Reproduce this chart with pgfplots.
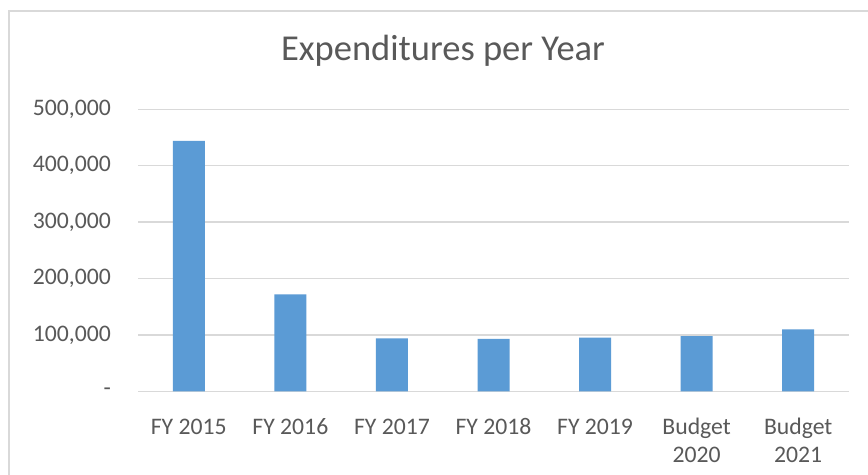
\documentclass[border=0pt]{standalone}
\usepackage{pgfplots}
\pgfplotsset{compat=1.18}
\usepackage{fontspec}
\setmainfont{Carlito}
\definecolor{barblue}{HTML}{5B9BD5}
\definecolor{gridgray}{HTML}{D9D9D9}
\definecolor{txtgray}{HTML}{595959}
\begin{document}
\begin{tikzpicture}
\useasboundingbox (0,0) rectangle (868bp,475bp);
\fill[white] (0,0) rectangle (868bp,475bp);
\draw[gridgray, line width=1.5bp] (9bp,0) -- (9bp,464bp) -- (868bp,464bp);
\begin{axis}[
  at={(138bp,83.7bp)}, anchor=south west,
  scale only axis, width=711bp, height=282bp,
  xmin=-0.5, xmax=6.5, ymin=0, ymax=500000,
  scaled y ticks=false,
  ybar, bar width=32bp,
  axis line style={draw=none},
  tick style={draw=none},
  ymajorgrids, grid style={gridgray, line width=1.3bp},
  xtick={0,1,2,3,4,5,6},
  xticklabels={{\rule{0pt}{18bp}FY 2015},{\rule{0pt}{18bp}FY 2016},{\rule{0pt}{18bp}FY 2017},{\rule{0pt}{18bp}FY 2018},{\rule{0pt}{18bp}FY 2019},{\rule{0pt}{18bp}Budget\\2020},{\rule{0pt}{18bp}Budget\\2021}},
  xticklabel style={align=center, anchor=north, inner sep=0pt, yshift=-20.7bp, text=txtgray, font=\fontsize{23.7bp}{28bp}\selectfont},
  ytick={0,100000,200000,300000,400000,500000},
  yticklabels={{-\hspace{11bp}},{100,000},{200,000},{300,000},{400,000},{500,000}},
  yticklabel style={anchor=east, inner sep=0pt, xshift=-27bp, text=txtgray, font=\fontsize{23.7bp}{28bp}\selectfont},
]
\addplot[fill=barblue, draw=none] coordinates {(0,444000) (1,172000) (2,94000) (3,93000) (4,95000) (5,98000) (6,110000)};
\end{axis}
\node[anchor=base, inner sep=0pt, text=txtgray, font=\fontsize{36.5bp}{40bp}\selectfont] at (443bp,414bp) {Expenditures per Year};
\end{tikzpicture}
\end{document}
